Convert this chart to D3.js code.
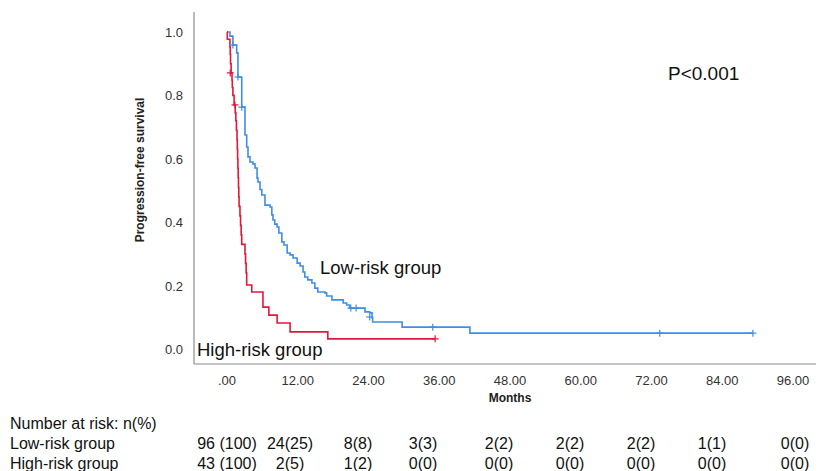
<!DOCTYPE html>
<html>
<head>
<meta charset="utf-8">
<script src="https://cdn.jsdelivr.net/npm/d3@7"></script>
<style>
  body { margin: 0; background: #fff; }
  svg text { font-family: "Liberation Sans", Arial, sans-serif; }
</style>
</head>
<body>
<div id="chart"></div>
<script>
// ---- data ----
// low-risk group: step times (months) and survival after each step
var lowTimes = [0, 0.5, 1.0, 1.64, 1.86, 2.5, 3.05, 3.34, 3.56, 3.9, 4.4, 4.75, 5.1, 5.25, 5.6, 5.9, 6.44, 7.3, 7.6, 7.8, 8.1, 8.5, 8.8, 9.3, 9.66, 10.2, 10.7, 11.2, 11.9, 12.4, 12.9, 13.2, 13.7, 14.4, 14.9, 15.4, 16.6, 16.9, 17.8, 19.7, 20.3, 20.8, 23.4, 24.2, 24.6, 24.7, 29.7, 41.2];
var lowSurv  = [1.0, 0.987, 0.959, 0.934, 0.858, 0.763, 0.675, 0.637, 0.606, 0.590, 0.584, 0.571, 0.539, 0.527, 0.503, 0.486, 0.454, 0.448, 0.423, 0.407, 0.394, 0.385, 0.366, 0.338, 0.328, 0.303, 0.297, 0.287, 0.271, 0.262, 0.243, 0.227, 0.218, 0.208, 0.192, 0.180, 0.177, 0.167, 0.155, 0.145, 0.139, 0.129, 0.117, 0.114, 0.098, 0.085, 0.069, 0.050];
var lowEnd = 89.2;
var lowCensorT = [1.0, 1.86, 2.5, 21.0, 21.9, 24.2, 34.9, 73.4, 89.2];
var lowCensorS = [0.959, 0.858, 0.763, 0.129, 0.129, 0.101, 0.069, 0.050, 0.050];

// high-risk group
var highTimes = [0, 0.05, 0.5, 0.55, 0.6, 0.7, 0.85, 0.9, 1.0, 1.2, 1.4, 1.5, 1.6, 1.7, 1.75, 1.8, 1.85, 1.9, 1.95, 2.0, 2.05, 2.2, 2.3, 2.4, 2.5, 3.05, 3.15, 3.25, 3.34, 4.2, 6.1, 7.1, 8.5, 10.7, 17.1];
var highSurv  = [1.0, 0.977, 0.953, 0.930, 0.900, 0.871, 0.848, 0.825, 0.800, 0.770, 0.745, 0.720, 0.690, 0.660, 0.630, 0.600, 0.570, 0.540, 0.510, 0.480, 0.450, 0.420, 0.390, 0.360, 0.330, 0.300, 0.270, 0.240, 0.202, 0.180, 0.132, 0.107, 0.082, 0.054, 0.032];
var highEnd = 35.3;
var highCensorT = [0.55, 1.35, 35.3];
var highCensorS = [0.871, 0.770, 0.032];

var xTicks = [0, 12, 24, 36, 48, 60, 72, 84, 96];
var yTicks = [0, 0.2, 0.4, 0.6, 0.8, 1.0];

var riskLow  = ["96 (100)", "24(25)", "8(8)", "3(3)", "2(2)", "2(2)", "2(2)", "1(1)", "0(0)"];
var riskHigh = ["43 (100)", "2(5)", "1(2)", "0(0)", "0(0)", "0(0)", "0(0)", "0(0)", "0(0)"];
var riskX    = [227, 290, 358, 423, 499, 570, 641, 712, 795];

var lowColor = "#3f8de6", highColor = "#e3173a";

var W = 821, H = 471;
var svg = d3.select("#chart").append("svg")
    .attr("width", W).attr("height", H);

var x = d3.scaleLinear().domain([0, 96]).range([227, 793]);
var y = d3.scaleLinear().domain([0, 1]).range([349, 32]);

// axes lines (no tick marks in the original)
svg.append("line").attr("x1", 194).attr("x2", 816).attr("y1", 364).attr("y2", 364)
    .attr("stroke", "#8c8c8c").attr("stroke-width", 1.2);
svg.append("line").attr("x1", 194).attr("x2", 194).attr("y1", 12).attr("y2", 364)
    .attr("stroke", "#8c8c8c").attr("stroke-width", 1.2);

// tick labels
svg.selectAll(".ytick").data(yTicks).enter().append("text")
    .attr("x", 183).attr("y", d => y(d) + 5)
    .attr("text-anchor", "end").attr("font-size", 13).attr("fill", "#333")
    .text(d => d.toFixed(1));

svg.selectAll(".xtick").data(xTicks).enter().append("text")
    .attr("x", d => x(d)).attr("y", 385)
    .attr("text-anchor", "middle").attr("font-size", 13).attr("fill", "#333")
    .text(d => d === 0 ? ".00" : d.toFixed(2));

svg.append("text").attr("x", 510).attr("y", 402).attr("text-anchor", "middle")
    .attr("font-size", 12).attr("font-weight", "bold").attr("fill", "#222").text("Months");

svg.append("text").attr("transform", "translate(144,170) rotate(-90)")
    .attr("text-anchor", "middle").attr("font-size", 12).attr("font-weight", "bold")
    .attr("fill", "#222").text("Progression-free survival");

// KM curves
var line = d3.line().x(d => x(d[0])).y(d => y(d[1])).curve(d3.curveStepAfter);

function curve(times, surv, end, color) {
  var pts = times.map((t, i) => [t, surv[i]]);
  pts.push([end, surv[surv.length - 1]]);
  svg.append("path").datum(pts).attr("d", line)
      .attr("fill", "none").attr("stroke", color).attr("stroke-width", 1.6);
}
function censors(ct, cs, color) {
  var g = svg.append("g").attr("stroke", color).attr("stroke-width", 1.2);
  ct.forEach((t, i) => {
    g.append("line").attr("x1", x(t) - 3.5).attr("x2", x(t) + 3.5)
        .attr("y1", y(cs[i])).attr("y2", y(cs[i]));
    g.append("line").attr("x1", x(t)).attr("x2", x(t))
        .attr("y1", y(cs[i]) - 3.5).attr("y2", y(cs[i]) + 3.5);
  });
}
curve(lowTimes, lowSurv, lowEnd, lowColor);
curve(highTimes, highSurv, highEnd, highColor);
censors(lowCensorT, lowCensorS, lowColor);
censors(highCensorT, highCensorS, highColor);

// annotations
svg.append("text").attr("x", 668).attr("y", 80).attr("font-size", 19).attr("fill", "#111").text("P<0.001");
svg.append("text").attr("x", 320).attr("y", 274).attr("font-size", 18.5).attr("fill", "#111").text("Low-risk group");
svg.append("text").attr("x", 197).attr("y", 356).attr("font-size", 18.5).attr("fill", "#111").text("High-risk group");

// number at risk table
svg.append("text").attr("x", 10).attr("y", 429).attr("font-size", 16).attr("fill", "#111").text("Number at risk: n(%)");
svg.append("text").attr("x", 10).attr("y", 449).attr("font-size", 16).attr("fill", "#111").text("Low-risk group");
svg.append("text").attr("x", 10).attr("y", 469).attr("font-size", 16).attr("fill", "#111").text("High-risk group");

svg.selectAll(".rl").data(riskLow).enter().append("text")
    .attr("x", (d, i) => riskX[i]).attr("y", 449).attr("text-anchor", "middle")
    .attr("font-size", 16).attr("fill", "#111").text(d => d);
svg.selectAll(".rh").data(riskHigh).enter().append("text")
    .attr("x", (d, i) => riskX[i]).attr("y", 469).attr("text-anchor", "middle")
    .attr("font-size", 16).attr("fill", "#111").text(d => d);
</script>
</body>
</html>
